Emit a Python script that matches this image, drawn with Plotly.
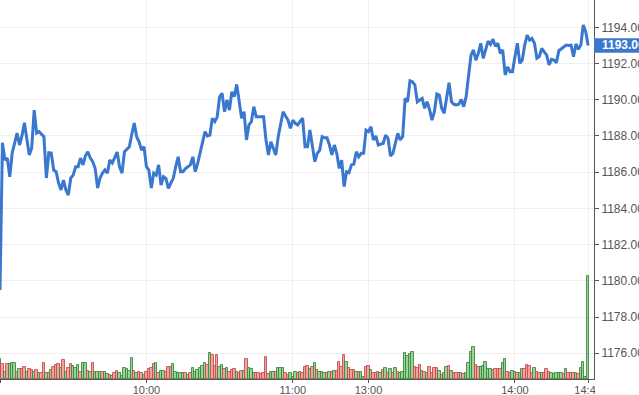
import plotly.graph_objects as go

# ---- data ----
price = [
    1179.49, 1187.63, 1186.67, 1186.78, 1185.75, 1187.06, 1187.60, 1188.16, 1187.50, 1188.00,
    1188.73, 1187.80, 1186.95, 1187.34, 1189.43, 1188.16, 1188.24, 1188.10, 1187.96, 1185.68,
    1187.08, 1187.06, 1186.12, 1186.03, 1185.40, 1185.02, 1185.57, 1185.02, 1184.74, 1185.68,
    1185.84, 1186.30, 1186.30, 1186.78, 1186.40, 1186.90, 1187.13, 1186.78, 1186.58, 1186.20,
    1185.13, 1185.68, 1185.95, 1186.12, 1185.95, 1186.67, 1186.51, 1186.80, 1187.11, 1186.30,
    1185.95, 1187.13, 1187.30, 1187.41, 1188.10, 1188.72, 1187.96, 1187.68, 1187.22, 1187.41,
    1186.30, 1186.12, 1185.13, 1185.95, 1185.84, 1186.40, 1185.29, 1185.75, 1185.66, 1185.11,
    1185.40, 1185.66, 1186.30, 1186.85, 1186.03, 1186.03, 1186.20, 1186.30, 1186.40, 1186.85,
    1186.03, 1186.49, 1187.04, 1187.59, 1188.24, 1188.00, 1188.05, 1188.98, 1188.79, 1189.06,
    1190.17, 1190.36, 1189.34, 1189.99, 1189.43, 1190.44, 1190.17, 1190.85, 1189.80, 1188.98,
    1189.34, 1187.78, 1188.61, 1188.79, 1189.62, 1189.06, 1189.06, 1189.06, 1189.06, 1187.78,
    1186.95, 1187.68, 1187.30, 1186.95, 1187.96, 1188.70, 1189.34, 1189.10, 1188.88, 1188.42,
    1188.88, 1188.70, 1188.61, 1188.80, 1188.98, 1187.41, 1187.41, 1188.33, 1187.41, 1186.58,
    1187.04, 1187.22, 1187.96, 1187.90, 1187.90, 1187.50, 1186.95, 1187.50, 1187.04, 1186.21,
    1186.67, 1185.20, 1186.03, 1185.97, 1186.40, 1186.45, 1187.13, 1186.85, 1187.04, 1187.04,
    1188.33, 1188.24, 1188.51, 1187.78, 1188.00, 1187.50, 1187.55, 1187.59, 1188.05, 1187.87,
    1186.89, 1187.04, 1187.60, 1188.15, 1187.78, 1187.96, 1190.08, 1189.89, 1191.05, 1191.00,
    1190.81, 1189.89, 1189.99, 1190.08, 1189.53, 1189.89, 1189.47, 1188.88, 1189.34, 1190.32,
    1190.26, 1189.53, 1189.25, 1190.10, 1190.94, 1189.89, 1189.75, 1189.72, 1189.75, 1190.02,
    1189.62, 1190.17, 1191.30, 1192.47, 1192.75, 1192.19, 1192.56, 1193.12, 1192.29, 1192.84,
    1193.24, 1193.06, 1193.35, 1192.95, 1193.12, 1192.56, 1192.75, 1191.37, 1191.82, 1191.55,
    1191.55, 1192.38, 1193.12, 1192.01, 1192.19, 1193.02, 1193.57, 1193.30, 1193.39, 1193.12,
    1192.29, 1192.38, 1192.84, 1192.65, 1192.47, 1191.92, 1192.23, 1192.19, 1192.05, 1192.71,
    1192.80, 1192.90, 1193.02, 1193.00, 1193.02, 1192.38, 1193.08, 1192.79, 1193.02, 1194.13,
    1193.76, 1193.00,
]

volume = [
    20, 15, 7, 15, 15, 16, 16, 7, 10, 10, 12, 7, 10, 9, 7, 9, 6, 6, 16, 6,
    6, 9, 12, 14, 15, 11, 19, 7, 11, 15, 13, 11, 14, 7, 16, 16, 8, 7, 16, 7,
    7, 7, 7, 7, 5, 4, 3, 6, 8, 6, 3, 11, 10, 8, 21, 8, 6, 7, 6, 4,
    7, 10, 11, 15, 16, 6, 8, 8, 7, 12, 12, 15, 7, 6, 6, 6, 6, 4, 6, 11,
    7, 9, 11, 13, 16, 14, 26, 24, 13, 24, 12, 14, 10, 11, 7, 9, 10, 7, 6, 8,
    8, 20, 11, 10, 6, 6, 6, 5, 6, 22, 5, 7, 7, 7, 11, 11, 11, 6, 4, 6,
    2, 7, 6, 7, 6, 12, 13, 10, 12, 16, 9,
    7, 7, 6, 6, 7, 7, 8, 8, 17, 12, 24, 17, 11, 9, 9, 7, 7, 7, 2, 12,
    13, 9, 6, 6, 7, 6, 9, 11, 6, 10, 6, 11, 7, 6, 7, 26, 23, 25, 27, 12,
    11, 14, 8, 7, 6, 12, 6, 11, 11, 8, 4, 6, 12, 13, 8, 6, 6, 6, 6, 5,
    6, 16, 27, 32, 14, 12, 12, 13, 17, 10, 10, 9, 10, 10, 10, 16, 20, 7, 6, 8,
    7, 6, 6, 10, 10, 14, 13, 6, 11, 7, 6, 6, 6, 10, 7, 6, 5, 6, 6, 6,
    5, 10, 6, 6, 6, 6, 5, 11, 17, 2, 103,
]

# G = up bar, R = down bar
volume_dir = (
    "GRGRGGGRGR" "RGRRGRGRRG" "RGRRRGRGRR" "GGGRGGRGRG" "GGRGGRGRRG" "GGGGGRGRRG"
    "RRRRGRGGRR" "RGGGGGRGRG" "GGGGGRGRRR" "GGRGRRRGRR" "GRGGGRRRRR" "RGGRGGGRRG"
    "GGRGRRRGRGR"
    "GGGRGRGRRR" "RGRRRGRGGR" "RGRRRGRGRG" "RGRGGGGGGR" "RRGRGRRRRG" "RGGRGRRRGR"
    "GGGGRRGGGG" "GGRRRGGRRG" "GRGGRRRRGR" "RGRRRGGGGG" "RGRRRGRGGGG"
)

tick_index = [0, 60, 120, 151, 211, 241]
tick_labels = ["Mar", "10:00", "11:00", "13:00", "14:00", "14:45"]
y_ticks = [1176, 1178, 1180, 1182, 1184, 1186, 1188, 1190, 1192, 1194]
last_price = 1193.00

# ---- figure ----
x = list(range(len(price)))
up_fill, up_line = "rgba(120,195,120,0.75)", "rgba(60,140,60,0.9)"
dn_fill, dn_line = "rgba(242,130,130,0.75)", "rgba(200,80,80,0.9)"
fills = [up_fill if d == "G" else dn_fill for d in volume_dir]
lines = [up_line if d == "G" else dn_line for d in volume_dir]

fig = go.Figure()
fig.add_trace(go.Bar(
    x=x, y=volume, yaxis="y2", width=1.0,
    marker=dict(color=fills, line=dict(color=lines, width=1)),
    hoverinfo="skip", showlegend=False,
))
fig.add_trace(go.Scatter(
    x=x, y=price, mode="lines",
    line=dict(color="#3a77cf", width=3),
    showlegend=False,
))

font_family = "Liberation Sans, Arial, sans-serif"
fig.update_layout(
    width=639, height=395,
    margin=dict(l=0, r=45, t=0, b=16, autoexpand=False),
    paper_bgcolor="white", plot_bgcolor="white",
    font=dict(family=font_family, color="#555555"),
    bargap=0,
    xaxis=dict(
        range=[0, 243.4], tickmode="array", tickvals=tick_index, ticktext=tick_labels,
        showgrid=True, gridcolor="#efefef", gridwidth=1,
        showline=True, linecolor="#555555", linewidth=1,
        ticks="outside", ticklen=3, tickcolor="#555555", ticklabelstandoff=-2,
        tickfont=dict(size=11, color="#555555"), zeroline=False,
    ),
    yaxis=dict(
        side="right", range=[1174.58, 1195.51], tickmode="array", tickvals=y_ticks,
        ticktext=["%.2f" % v for v in y_ticks],
        showgrid=True, gridcolor="#efefef", gridwidth=1,
        showline=True, linecolor="#555555", linewidth=1,
        ticks="outside", ticklen=4, tickcolor="#555555",
        tickfont=dict(size=12, color="#555555"), zeroline=False,
    ),
    yaxis2=dict(
        overlaying="y", range=[0, max(volume) * 379 / 103], visible=False,
        showgrid=False, zeroline=False,
    ),
    shapes=[
        # mask the overflow of the last x label past the plot edge
        dict(type="rect", xref="paper", yref="paper", x0=1.002, x1=1.2, y0=-0.2, y1=-0.003,
             fillcolor="white", line=dict(width=0), layer="above"),
        # last price marker box
        dict(type="rect", xref="paper", yref="y", x0=1.0, x1=1.2,
             y0=last_price - 0.40, y1=last_price + 0.40,
             fillcolor="#3a77cf", line=dict(width=0), layer="above"),
    ],
    annotations=[
        dict(xref="paper", yref="y", x=1.0, y=last_price, xanchor="left", yanchor="middle",
             xshift=6, text="<b>%.2f</b>" % last_price, showarrow=False,
             font=dict(size=12, color="white", family=font_family)),
    ],
)

fig.write_html(
    "out.html",
    config={"displayModeBar": False},
    post_script="document.body.style.margin='0';document.body.style.overflow='hidden';",
)
